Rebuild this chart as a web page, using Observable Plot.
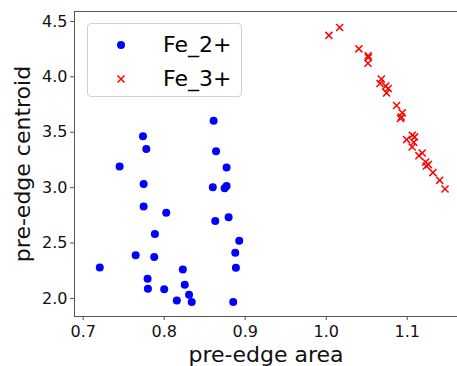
<!DOCTYPE html>
<html>
<head>
<meta charset="utf-8">
<script src="https://cdn.jsdelivr.net/npm/d3@7"></script>
<script src="https://cdn.jsdelivr.net/npm/@observablehq/plot@0.6"></script>
<style>
  html, body { margin: 0; padding: 0; background: #fff; }
  #wrap { position: relative; width: 457px; height: 366px; overflow: hidden; font-family: "DejaVu Sans", sans-serif; }
  #legend { position: absolute; left: 87px; top: 23px; width: 155px; height: 74px; border: 1px solid #d0d0d0; border-radius: 4px; background: rgba(255,255,255,0.8); box-sizing: border-box; }
  .row { position: absolute; left: 0; height: 30px; display: flex; align-items: center; }
  .row svg { position: absolute; left: 24px; }
  .row span { position: absolute; left: 75px; font-size: 22px; color: #000; white-space: nowrap; line-height: 30px; }
</style>
</head>
<body>
<div id="wrap"></div>
<script>
// Series: Fe_2+ (blue dots)
const fe2Area = [0.7205, 0.745, 0.7738, 0.7779, 0.7746, 0.7746, 0.8025, 0.7885, 0.7648, 0.7877,
  0.7795, 0.7799, 0.800, 0.8156, 0.823, 0.8254, 0.8307, 0.834, 0.861, 0.864,
  0.877, 0.860, 0.8746, 0.877, 0.863, 0.8795, 0.8926, 0.8877, 0.8885, 0.8852];
const fe2Centroid = [2.28, 3.19, 3.464, 3.349, 3.033, 2.831, 2.774, 2.581, 2.389, 2.373,
  2.178, 2.087, 2.084, 1.982, 2.262, 2.123, 2.033, 1.967, 3.605, 3.328,
  3.181, 3.003, 2.994, 3.015, 2.699, 2.732, 2.521, 2.413, 2.277, 1.967];
// Series: Fe_3+ (red crosses)
const fe3Area = [1.0033, 1.0165, 1.0403, 1.0518, 1.052, 1.0515, 1.068, 1.0663, 1.0733, 1.0766,
  1.0745, 1.0868, 1.0938, 1.0926, 1.0917, 1.0992, 1.1062, 1.109, 1.108, 1.106,
  1.1185, 1.1144, 1.1227, 1.126, 1.1235, 1.1317, 1.140, 1.1466];
const fe3Centroid = [4.374, 4.446, 4.253, 4.19, 4.175, 4.123, 3.98, 3.94, 3.916, 3.895,
  3.855, 3.741, 3.675, 3.638, 3.624, 3.434, 3.473, 3.458, 3.41, 3.367,
  3.313, 3.289, 3.232, 3.208, 3.195, 3.136, 3.066, 2.988];

const xTicks = [0.7, 0.8, 0.9, 1.0, 1.1];
const yTicks = [2.0, 2.5, 3.0, 3.5, 4.0, 4.5];
const xLabel = "pre-edge area";
const yLabel = "pre-edge centroid";
const seriesNames = ["Fe_2+", "Fe_3+"];

const fe2 = fe2Area.map((a, i) => ({area: a, centroid: fe2Centroid[i]}));
const fe3 = fe3Area.map((a, i) => ({area: a, centroid: fe3Centroid[i]}));

const spine = "#555";
const chart = Plot.plot({
  width: 457,
  height: 366,
  marginLeft: 74,
  marginRight: 0,
  marginTop: 11,
  marginBottom: 50,
  style: {fontFamily: "DejaVu Sans, sans-serif", background: "transparent", overflow: "visible"},
  x: {domain: [0.6893, 1.162]},
  y: {domain: [1.837, 4.59]},
  marks: [
    Plot.frame({anchor: "left", stroke: spine}),
    Plot.frame({anchor: "top", stroke: spine}),
    Plot.frame({anchor: "bottom", stroke: spine}),
    Plot.axisX({ticks: xTicks, tickFormat: d3.format(".1f"), tickSize: 4, tickPadding: 5, fontSize: 16, stroke: spine, color: "#111", label: null}),
    Plot.axisY({ticks: yTicks, tickFormat: d3.format(".1f"), tickSize: 4, tickPadding: 3, fontSize: 16, stroke: spine, color: "#111", label: null}),
    Plot.text([xLabel], {frameAnchor: "bottom", dy: 38, fontSize: 22, fill: "#111", lineAnchor: "middle", textAnchor: "middle"}),
    Plot.text([yLabel], {frameAnchor: "left", dx: -52, rotate: -90, fontSize: 22, fill: "#111", lineAnchor: "middle", textAnchor: "middle"}),
    Plot.dot(fe2, {x: "area", y: "centroid", r: 4, fill: "#0000ff", stroke: "none"}),
    Plot.dot(fe3, {x: "area", y: "centroid", r: 3.3, symbol: "times", stroke: "#ff0000", strokeWidth: 1.5})
  ]
});
const wrap = document.getElementById("wrap");
wrap.appendChild(chart);

const legend = document.createElement("div");
legend.id = "legend";
legend.innerHTML = `
  <div class="row" style="top:6px"><svg width="18" height="18"><circle cx="9" cy="9" r="4" fill="#0000ff"/></svg><span>${seriesNames[0]}</span></div>
  <div class="row" style="top:40px"><svg width="18" height="18"><path d="M5.5,5.5L12.5,12.5M12.5,5.5L5.5,12.5" stroke="#ff0000" stroke-width="1.5"/></svg><span>${seriesNames[1]}</span></div>`;
wrap.appendChild(legend);
</script>
</body>
</html>
